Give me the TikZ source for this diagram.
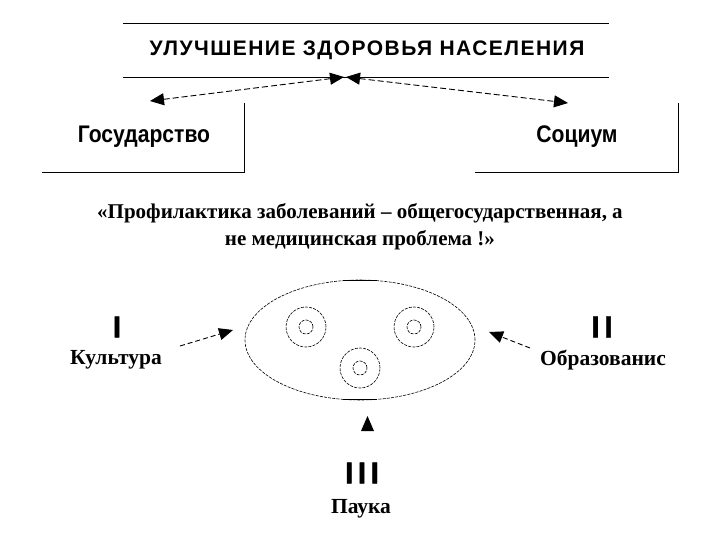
\documentclass[tikz,border=0pt]{standalone}
\usepackage{fontspec}
\setmainfont{Liberation Serif}
\newfontfamily\arialf{Liberation Sans}
\newfontfamily\arialn[FakeStretch=0.88]{Liberation Sans}
\newfontfamily\arialnum[FakeBold=1.5,LetterSpace=15]{Liberation Sans}
\newfontfamily\arialsp[LetterSpace=7]{Liberation Sans}
\usetikzlibrary{arrows.meta,shapes.geometric}
\tikzset{
  rule/.style={line width=0.8pt},
  dashconn/.style={line width=0.9pt, dash pattern=on 6pt off 3pt, {Triangle[length=14pt,width=12pt]}-{Triangle[length=14pt,width=12pt]}},
  oneconn/.style={line width=0.9pt, dash pattern=on 5pt off 3pt, -{Triangle[length=14pt,width=12pt]}},
  fined/.style={draw, line width=0.6pt, dash pattern=on 3pt off 1.2pt, inner sep=0pt},
  sanslab/.style={font=\arialn\bfseries\fontsize{24}{28}\selectfont, inner sep=0pt},
  roman/.style={font=\arialnum\bfseries\fontsize{30}{32}\selectfont, inner sep=0pt},
  serlab/.style={font=\bfseries\fontsize{21.5}{24}\selectfont, inner sep=0pt},
}
\begin{document}
\begin{tikzpicture}[x=1pt,y=-1pt]
\useasboundingbox (0,0) rectangle (720,540);
% title
\draw[rule] (123,23) coordinate (tl1) -- (609,23) coordinate (tr1);
\draw[rule] (123,77) coordinate (tl2) -- (609,77) coordinate (tr2);
\node[font=\arialsp\bfseries\fontsize{21}{24}\selectfont, inner sep=0pt] (title) at (367,50) {УЛУЧШЕНИЕ ЗДОРОВЬЯ НАСЕЛЕНИЯ};
\coordinate (cl) at (344,77);
\coordinate (cr) at (346,77);
\coordinate (gl) at (150,101);
\coordinate (sr) at (568,103);
\draw[dashconn] (gl) -- (cl);
\draw[dashconn] (cr) -- (sr);
% boxes
\draw[rule] (244,103) -- (244,172) -- (42,172);
\draw[rule] (678,103) -- (678,172) -- (475,172);
\node[sanslab] (gos) at (144,137) {Государство};
\node[sanslab] (soc) at (577,137) {Социум};
% quote
\node[font=\bfseries\fontsize{21}{27}\selectfont, align=center, inner sep=0pt] (quote) at (360,227)
  {«Профилактика заболеваний – общегосударственная, а\\не медицинская проблема !»};
% ellipse
\node[ellipse, fined, minimum width=230pt, minimum height=120pt] (oval) at (360,340) {};
\draw[line width=0.8pt] (oval.106) -- (oval.74);
\draw[line width=0.8pt] (oval.254) -- (oval.286);
\node[circle, fined, minimum size=40pt] (c1) at (306,327) {};
\node[circle, fined, minimum size=14pt] (c1i) at (306,327) {};
\node[circle, fined, minimum size=40pt] (c2) at (414,327) {};
\node[circle, fined, minimum size=14pt] (c2i) at (414,327) {};
\node[circle, fined, minimum size=40pt] (c3) at (360,368) {};
\node[circle, fined, minimum size=14pt] (c3i) at (360,368) {};
% left
\node[roman] (r1) at (117,327) {I};
\node[serlab] (kult) at (116,360) {Культура};
\coordinate (ka) at (180,346);
\coordinate (kb) at (233,330);
\draw[oneconn] (ka) -- (kb);
% right
\node[roman] (r2) at (602,327) {II};
\node[serlab] (obr) at (603,360) {Образованис};
\coordinate (oa) at (530,348);
\coordinate (ob) at (489,332);
\draw[oneconn] (oa) -- (ob);
% bottom
\coordinate (tri) at (367.5,416);
\fill (361,431) -- (tri) -- (374,431) -- cycle;
\node[roman] (r3) at (362,473) {III};
\node[serlab] (nauka) at (361,509) {Паука};
\end{tikzpicture}
\end{document}
